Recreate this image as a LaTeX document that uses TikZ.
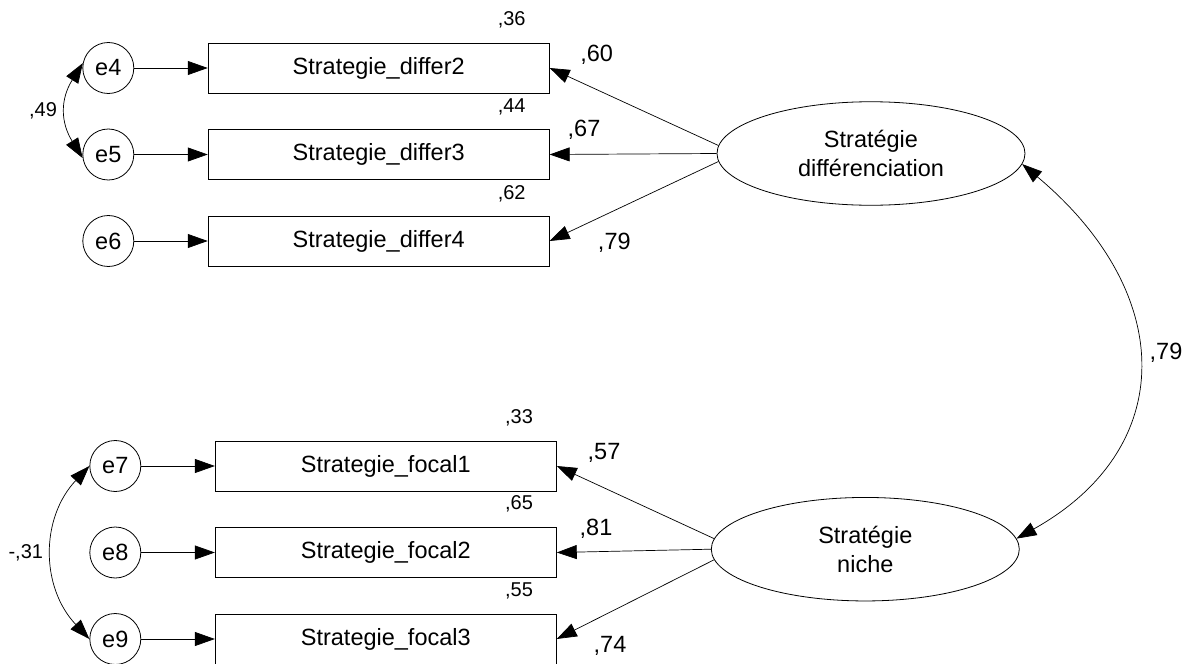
\documentclass[tikz,border=0pt]{standalone}
\usepackage{fontspec}
\setmainfont{Liberation Sans}
\usetikzlibrary{arrows.meta,shapes.geometric}

\begin{document}
\begin{tikzpicture}[x=1pt,y=-1pt,
  txtbig/.style={font=\fontsize{23.5}{29}\selectfont},
  txtsmall/.style={font=\fontsize{20}{24}\selectfont},
  errnode/.style={circle,draw,line width=0.8pt,minimum size=51pt,inner sep=0pt,txtbig},
  obsbox/.style={rectangle,draw,line width=0.9pt,minimum width=341pt,minimum height=50pt,inner sep=0pt,txtbig},
  latnode/.style={ellipse,draw,line width=0.8pt,minimum width=308pt,minimum height=103.5pt,inner sep=0pt,align=center,txtbig},
  regarrow/.style={line width=0.7pt,-{Triangle[length=20pt,width=14pt]}},
  covarrow/.style={line width=0.7pt,{Triangle[length=20pt,width=14pt]}-{Triangle[length=20pt,width=14pt]}}]
\useasboundingbox (0,0) rectangle (1192,664);
% differenciation block
\foreach \i/\y/\v in {4/68/2,5/154.5/3,6/241/4}{
  \node[errnode] (e\i) at (108.3,\y) {e\i};
  \node[obsbox] (d\v) at (378.7,\y) {Strategie\_differ\v};
  \draw[regarrow] (e\i) -- (d\v);
}
\node[latnode] (dif) at (871,153.5) {Stratégie\\différenciation};
\draw[regarrow] (dif.177) -- (d2.east);
\draw[regarrow] (dif.180) -- (d3.east);
\draw[regarrow] (dif.183) -- (d4.east);
% niche block
\foreach \i/\y/\v in {7/466/1,8/552.5/2,9/639/3}{
  \node[errnode] (e\i) at (115.3,\y) {e\i};
  \node[obsbox] (f\v) at (385.8,\y) {Strategie\_focal\v};
  \draw[regarrow] (e\i) -- (f\v);
}
\node[latnode] (nic) at (865.3,549.2) {Stratégie\\niche};
\draw[regarrow] (nic.176) -- (f1.east);
\draw[regarrow] (nic.180) -- (f2.east);
\draw[regarrow] (nic.184) -- (f3.east);
% covariances
\draw[covarrow] (e4.169) .. controls +(-22.6,36) and +(-22.3,-36) .. (e5.188);
\draw[covarrow] (e7.180) .. controls +(-49,52) and +(-49,-52) .. (e9.180);
\draw[covarrow] (dif.-4) .. controls +(155,130) and +(161,-90) .. (nic.4);
% estimates
\node[txtsmall] (sq2) at (511.7,20) {,36};
\node[txtsmall] (sq3) at (511.7,106.7) {,44};
\node[txtsmall] (sq4) at (511.7,194) {,62};
\node[txtsmall] (sf1) at (519,418) {,33};
\node[txtsmall] (sf2) at (519,504) {,65};
\node[txtsmall] (sf3) at (519,591) {,55};
\node[txtbig] (ld2) at (596.7,55) {,60};
\node[txtbig] (ld3) at (584,129.3) {,67};
\node[txtbig] (ld4) at (614.3,242.7) {,79};
\node[txtbig] (lf1) at (604,453.3) {,57};
\node[txtbig] (lf2) at (596,528.3) {,81};
\node[txtbig] (lf3) at (610,646) {,74};
\node[txtsmall] (c45) at (43,110.3) {,49};
\node[txtsmall] (c79) at (25.8,552.7) {-,31};
\node[txtbig] (cdn) at (1166,352.7) {,79};
\end{tikzpicture}
\end{document}
